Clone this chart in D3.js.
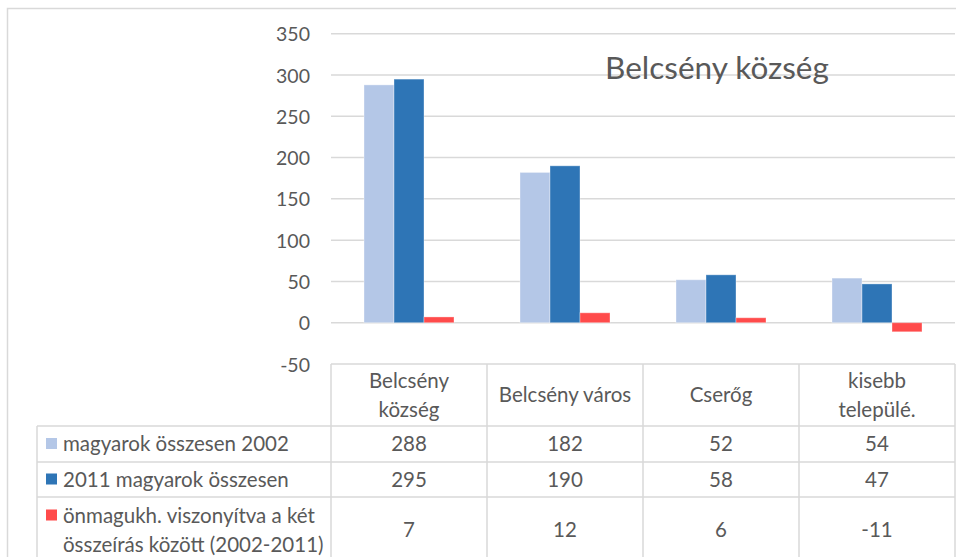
<!DOCTYPE html>
<html><head><meta charset="utf-8">
<script src="https://cdn.jsdelivr.net/npm/d3@7"></script>
<style>html,body{margin:0;padding:0;background:#fff;overflow:hidden}</style>
</head><body>
<svg id="chart" width="956" height="557"></svg>
<script>
const categories = [["Belcsény", "község"], ["Belcsény város"], ["Cserőg"], ["kisebb", "települé."]];
const seriesNames = ["magyarok összesen 2002", "2011 magyarok összesen", "önmagukh. viszonyítva a két összeírás között (2002-2011)"];
const seriesLegendLines = [["magyarok összesen 2002"], ["2011 magyarok összesen"], ["önmagukh. viszonyítva a két", "összeírás között (2002-2011)"]];
const values2002 = [288, 182, 52, 54];
const values2011 = [295, 190, 58, 47];
const valuesDiff = [7, 12, 6, -11];
const yTicks = [-50, 0, 50, 100, 150, 200, 250, 300, 350];
const colors = ["#b4c7e7", "#2e75b6", "#ff4b4b"];
const title = "Belcsény község";

const series = [values2002, values2011, valuesDiff];
const svg = d3.select("#chart");
const font = "Lato, 'Open Sans', sans-serif";
const textColor = "#595959";
const gridColor = "#d9d9d9";
const tableFont = "20.5px";

const plotLeft = 331, plotRight = 955;
const y = d3.scaleLinear().domain([-50, 350]).range([364, 33.7]);
const x = d3.scaleBand().domain(d3.range(categories.length)).range([plotLeft, plotRight]).padding(0);
const groupW = 90;
const xs = d3.scaleBand().domain(d3.range(series.length)).range([0, groupW]).padding(0);

// outer border
svg.append("rect").attr("x", 7.5).attr("y", 8.5).attr("width", 960).attr("height", 600)
  .attr("fill", "none").attr("stroke", gridColor).attr("stroke-width", 1.5);

// y axis labels
const yAxis = d3.axisLeft(y).tickValues(yTicks).tickSize(0).tickPadding(0).tickFormat(d => String(d));
const gAxis = svg.append("g").attr("transform", `translate(${plotLeft},0)`).call(yAxis);
gAxis.select(".domain").remove();
gAxis.selectAll("text").attr("x", -21).attr("dy", "0.36em")
  .attr("fill", textColor).style("font-family", font).style("font-size", "19.5px");
// gridlines
svg.append("g").selectAll("line").data(yTicks.filter(t => t > -50)).join("line")
  .attr("x1", plotLeft).attr("x2", plotRight)
  .attr("y1", d => y(d)).attr("y2", d => y(d))
  .attr("stroke", gridColor).attr("stroke-width", 1.5);

// title
svg.append("text").attr("x", 717).attr("y", 79).attr("text-anchor", "middle")
  .attr("fill", textColor).style("font-family", font).style("font-size", "31.5px").text(title);

// bars
series.forEach((vals, si) => {
  svg.append("g").selectAll("rect").data(vals).join("rect")
    .attr("x", (d, i) => x(i) + (x.bandwidth() - groupW) / 2 + xs(si))
    .attr("width", xs.bandwidth())
    .attr("y", d => Math.min(y(d), y(0)))
    .attr("height", d => Math.abs(y(d) - y(0)))
    .attr("fill", colors[si])
    .attr("stroke", "#ffffff").attr("stroke-opacity", 0.35).attr("stroke-width", 1);
});

// data table
const tableTop = y(-50);
const rowLines = [426, 462, 497, 563];
const legendLeft = 37;
const tbl = svg.append("g").attr("stroke", gridColor).attr("stroke-width", 1.5);
tbl.append("line").attr("x1", plotLeft).attr("x2", plotRight).attr("y1", tableTop).attr("y2", tableTop);
rowLines.forEach(r => tbl.append("line").attr("x1", legendLeft).attr("x2", plotRight).attr("y1", r).attr("y2", r));
tbl.append("line").attr("x1", legendLeft).attr("x2", legendLeft).attr("y1", rowLines[0]).attr("y2", 600);
d3.range(categories.length + 1).forEach(i => {
  const xx = i < categories.length ? x(i) : plotRight;
  tbl.append("line").attr("x1", xx).attr("x2", xx).attr("y1", tableTop).attr("y2", 600);
});

const lineH = 29;
// header labels
categories.forEach((lines, i) => {
  const cy = (tableTop + rowLines[0]) / 2;
  const t = svg.append("text").attr("text-anchor", "middle").attr("fill", textColor)
    .style("font-family", font).style("font-size", tableFont);
  lines.forEach((ln, k) => {
    t.append("tspan").attr("x", x(i) + x.bandwidth() / 2)
      .attr("y", cy + (k - (lines.length - 1) / 2) * lineH).attr("dy", "0.36em").text(ln);
  });
});

// rows
series.forEach((vals, si) => {
  const top = rowLines[si];
  const bot = rowLines[si + 1];
  const cy = si === 2 ? 530 : (top + bot) / 2;
  const lines = seriesLegendLines[si];
  const firstY = cy - (lines.length - 1) / 2 * lineH;
  svg.append("rect").attr("x", 46).attr("y", firstY - 6).attr("width", 11).attr("height", 11).attr("fill", colors[si]);
  const t = svg.append("text").attr("fill", textColor).style("font-family", font).style("font-size", tableFont);
  lines.forEach((ln, k) => {
    t.append("tspan").attr("x", 63).attr("y", firstY + k * lineH).attr("dy", "0.36em").text(ln);
  });
  svg.append("g").selectAll("text").data(vals).join("text")
    .attr("x", (d, i) => x(i) + x.bandwidth() / 2).attr("y", cy).attr("dy", "0.36em")
    .attr("text-anchor", "middle").attr("fill", textColor)
    .style("font-family", font).style("font-size", tableFont).text(d => String(d));
});
</script>
</body></html>
